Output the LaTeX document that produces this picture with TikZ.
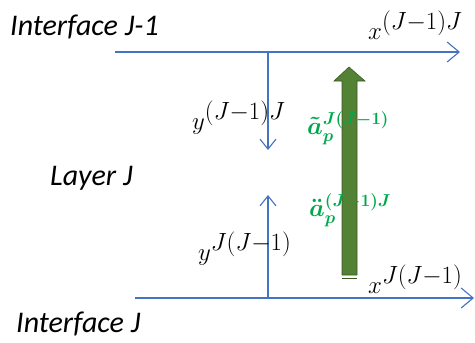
\documentclass[tikz,border=0pt]{standalone}
\usepackage{fontspec}
\setmainfont{Carlito}
\usetikzlibrary{arrows.meta, positioning}
\definecolor{axblue}{RGB}{68,114,196}
\definecolor{accgreen}{RGB}{0,168,76}
\definecolor{arrfill}{RGB}{84,130,53}
\definecolor{arrdraw}{RGB}{56,87,35}
\tikzset{
  axis/.style  ={-{Straight Barb[length=12pt, width=20pt]}, line width=1.1pt,
                 axblue},
  ifc/.style   ={font=\fontsize{30}{32}\selectfont\itshape, inner sep=0pt,
                 anchor=base west},
  mlbl/.style  ={font=\fontsize{34}{36}\selectfont, inner sep=0pt,
                 anchor=base west},
  glbl/.style  ={font=\fontsize{27}{29}\selectfont\boldmath, text=accgreen,
                 inner sep=0pt, anchor=base west},
  accarr/.style={fill=arrfill, draw=arrdraw, line width=0.6pt},
}
\begin{document}
\begin{tikzpicture}[x=1pt, y=-1pt]
  \useasboundingbox (0,0) rectangle (475,343);
  % interfaces and local axes
  \coordinate (t0)  at (115,52);
  \coordinate (t1)  at (460,52);
  \coordinate (b0)  at (135,298);
  \coordinate (b1)  at (474,298);
  \coordinate (yt)  at (268,52);
  \coordinate (yte) at (268,150);
  \coordinate (yb)  at (268,298);
  \coordinate (ybe) at (268,195);
  \draw[axis] (t0) -- (t1);
  \draw[axis] (b0) -- (b1);
  \draw[axis, -{Straight Barb[length=10pt, width=16pt]}] (yt) -- (yte);
  \draw[axis, -{Straight Barb[length=10pt, width=16pt]}] (yb) -- (ybe);
  % green arrow
  \draw[accarr] (342,275) -- (342,81) -- (334,81) -- (349,67) -- (365,81)
    -- (357,81) -- (357,275) -- cycle;
  \draw[arrdraw, line width=0.8pt] (342,278.5) -- (357,278.5);
  % labels
  \node[ifc] (ifa) at (10,35)  {Interface J-1};
  \node[ifc] (lay) at (50,185) {Layer J};
  \node[ifc] (ifb) at (16,332) {Interface J};
  \node[mlbl] (xa) at (368,39)  {$x^{(J-1)J}$};
  \node[mlbl] (ya) at (192,129) {$y^{(J-1)J}$};
  \node[mlbl] (yb) at (198,260) {$y^{J(J-1)}$};
  \node[mlbl] (xb) at (368,293) {$x^{J(J-1)}$};
  \node[glbl] (aa) at (307,134) {$\tilde{a}_p^{J(J-1)}$};
  \node[glbl] (ab) at (309,216) {$\ddot{a}_p^{(J-1)J}$};
\end{tikzpicture}
\end{document}
